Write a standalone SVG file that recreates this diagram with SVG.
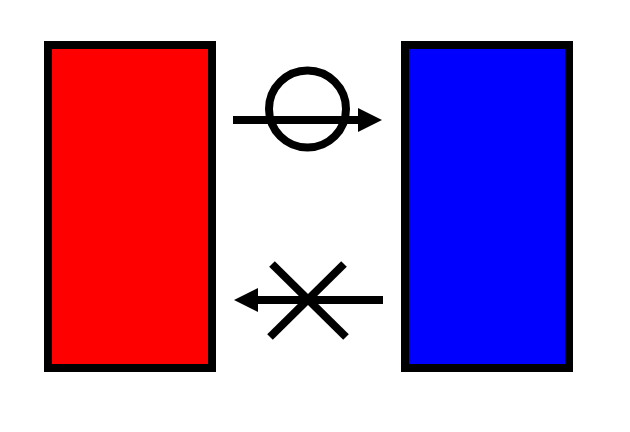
<svg xmlns="http://www.w3.org/2000/svg" width="630" height="432" viewBox="0 0 630 432">
<style>
.box{stroke:#000;stroke-width:8}
.ln{stroke:#000;stroke-width:8;fill:none}
</style>
<defs>
<marker id="ah" markerUnits="userSpaceOnUse" markerWidth="26" markerHeight="26" refX="1" refY="12" orient="auto" viewBox="0 0 26 26">
<path d="M0,0 L24,12 L0,24 Z" fill="#000"/>
</marker>
</defs>
<rect width="630" height="432" fill="#fff"/>
<g id="left"><rect class="box" x="48" y="45" width="164" height="323" fill="#f00"/></g>
<g id="right"><rect class="box" x="405" y="45" width="164" height="323" fill="#00f"/></g>
<g id="connectors">
<g id="top-arrow">
<line class="ln" x1="233" y1="120" x2="359" y2="120" marker-end="url(#ah)"/>
<circle class="ln" cx="307.5" cy="109" r="38.5"/>
</g>
<g id="bottom-arrow">
<line class="ln" x1="383" y1="300" x2="257" y2="300" marker-end="url(#ah)"/>
<line class="ln" x1="272" y1="264" x2="346" y2="337"/>
<line class="ln" x1="344" y1="264" x2="270" y2="337"/>
</g>
</g>
</svg>
